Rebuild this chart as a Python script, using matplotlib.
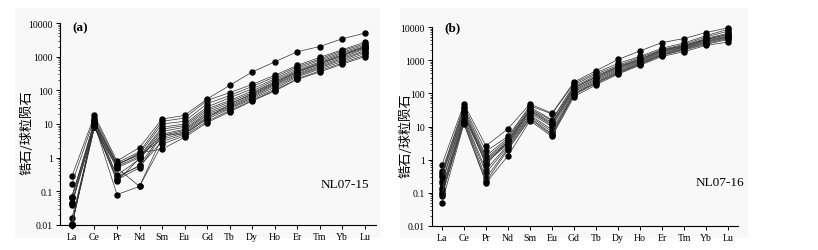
import matplotlib
matplotlib.use("Agg")
import matplotlib.pyplot as plt
from matplotlib.ticker import LogLocator, FixedLocator, FixedFormatter, NullFormatter
from matplotlib.patches import Rectangle
import numpy as np

elements = ["La", "Ce", "Pr", "Nd", "Sm", "Eu", "Gd", "Tb", "Dy", "Ho", "Er", "Tm", "Yb", "Lu"]

# NL07-15 samples (chondrite-normalised)
a_La = [0.28, 0.17, 0.07, 0.065, 0.045, 0.04, 0.016, 0.011, 0.010, 0.010, 0.011, 0.010, 0.045, 0.07]
a_Ce = [18, 15, 12, 10, 9, 8.5, 8, 9, 10, 11, 12, 8, 13, 9.5]
a_Pr = [0.80, 0.70, 0.60, 0.55, 0.50, 0.30, 0.25, 0.22, 0.08, 0.65, 0.28, 0.50, 0.60, 0.20]
a_Nd = [2.0, 1.5, 1.3, 1.1, 1.0, 0.9, 0.6, 0.5, 0.14, 1.2, 0.55, 0.14, 1.4, 0.95]
a_Sm = [14, 12, 10, 8, 7, 6, 5, 4.5, 4, 3.5, 3, 2.5, 1.8, 5]
a_Eu = [18, 15, 12, 10, 9, 8, 7, 6.5, 6, 5.5, 5, 4.5, 4, 5]
a_Gd = [55, 50, 40, 32, 28, 25, 22, 20, 18, 16, 14, 12, 11, 15]
a_Tb = [140, 85, 70, 60, 50, 45, 40, 35, 32, 30, 28, 25, 23, 38]
a_Dy = [350, 150, 130, 110, 95, 85, 75, 70, 65, 60, 55, 50, 48, 80]
a_Ho = [700, 280, 250, 220, 200, 180, 160, 150, 140, 125, 110, 100, 95, 170]
a_Er = [1400, 550, 500, 450, 400, 370, 340, 310, 290, 270, 250, 220, 210, 350]
a_Tm = [2000, 950, 850, 780, 700, 650, 600, 550, 500, 470, 430, 380, 350, 620]
a_Yb = [3400, 1600, 1500, 1350, 1250, 1150, 1050, 950, 880, 800, 720, 650, 600, 1100]
a_Lu = [5000, 2700, 2400, 2200, 2000, 1900, 1800, 1700, 1500, 1400, 1250, 1100, 1000, 2000]

# NL07-16 samples
b_La = [0.70, 0.45, 0.40, 0.35, 0.22, 0.20, 0.14, 0.12, 0.10, 0.09, 0.08, 0.05, 0.30]
b_Ce = [48, 40, 35, 30, 25, 22, 20, 18, 16, 15, 13, 12, 28]
b_Pr = [2.6, 1.8, 1.3, 1.1, 1.0, 0.9, 0.8, 0.5, 0.4, 0.28, 0.22, 0.20, 0.7]
b_Nd = [8.5, 5, 4.5, 4, 3.5, 3.2, 3, 2.8, 2.5, 2.2, 2, 1.3, 3.8]
b_Sm = [48, 42, 38, 34, 30, 28, 25, 22, 20, 18, 17, 15, 32]
b_Eu = [25, 24, 16, 15, 12, 11, 10, 8, 7, 6, 5.5, 5, 13]
b_Gd = [220, 200, 180, 160, 150, 130, 120, 110, 100, 95, 90, 80, 140]
b_Tb = [480, 420, 380, 340, 300, 280, 260, 240, 220, 210, 200, 180, 320]
b_Dy = [1050, 800, 700, 650, 600, 560, 520, 480, 450, 420, 400, 380, 620]
b_Ho = [1900, 1300, 1200, 1100, 1000, 950, 900, 850, 800, 780, 750, 700, 1050]
b_Er = [3400, 2300, 2100, 2000, 1900, 1800, 1700, 1600, 1500, 1450, 1400, 1300, 2000]
b_Tm = [4500, 3300, 3000, 2800, 2600, 2500, 2400, 2300, 2200, 2100, 2000, 1800, 2700]
b_Yb = [6800, 5500, 5000, 4500, 4200, 4000, 3800, 3600, 3400, 3200, 3000, 2800, 4300]
b_Lu = [9500, 8500, 7500, 6500, 6000, 5500, 5200, 5000, 4800, 4500, 4200, 3500, 6000]

a_data = np.array([a_La, a_Ce, a_Pr, a_Nd, a_Sm, a_Eu, a_Gd, a_Tb, a_Dy, a_Ho, a_Er, a_Tm, a_Yb, a_Lu]).T
b_data = np.array([b_La, b_Ce, b_Pr, b_Nd, b_Sm, b_Eu, b_Gd, b_Tb, b_Dy, b_Ho, b_Er, b_Tm, b_Yb, b_Lu]).T

ytick_vals = [0.01, 0.1, 1, 10, 100, 1000, 10000]
ytick_labels = ["0.01", "0.1", "1", "10", "100", "1000", "10000"]

serif = ["Liberation Serif", "DejaVu Serif"]
cjk = ["Noto Sans CJK SC", "DejaVu Sans"]

fig = plt.figure(figsize=(8.18, 2.51), dpi=100, facecolor="white")

# faint grey panel backgrounds
for (x0, x1) in [(15, 380), (400, 748)]:
    fig.patches.append(Rectangle((x0 / 818, 12 / 251), (x1 - x0) / 818, 230 / 251,
                                 transform=fig.transFigure, facecolor="#f8f8f8",
                                 edgecolor="none", zorder=-10))

def make_panel(rect, data, tag, tag_y, name, name_xy, xlim, ylab_x):
    ax = fig.add_axes(rect)
    ax.set_facecolor("none")
    x = np.arange(len(elements))
    for row in data:
        ax.plot(x, row, color="#333333", lw=0.5, marker="o", ms=3.6,
                mfc="black", mec="black", zorder=3, clip_on=False)
    ax.set_yscale("log")
    ax.set_ylim(0.01, 10000)
    ax.set_xlim(*xlim)
    ax.yaxis.set_major_locator(FixedLocator(ytick_vals))
    ax.yaxis.set_major_formatter(FixedFormatter(ytick_labels))
    ax.yaxis.set_minor_locator(LogLocator(base=10, subs=np.arange(2, 10), numticks=20))
    ax.yaxis.set_minor_formatter(NullFormatter())
    ax.set_xticks(x)
    ax.set_xticklabels(elements)
    for s in ["top", "right"]:
        ax.spines[s].set_visible(False)
    for s in ["left", "bottom"]:
        ax.spines[s].set_linewidth(0.8)
    ax.tick_params(axis="both", which="major", direction="out", length=3, width=0.7,
                   labelsize=7, pad=2)
    ax.tick_params(axis="y", which="minor", direction="out", length=1.8, width=0.5)
    for lab in ax.get_xticklabels() + ax.get_yticklabels():
        lab.set_fontfamily(serif)
    ax.set_ylabel("锆石/球粒陨石", family=cjk, fontsize=9.5)
    ax.yaxis.set_label_coords(ylab_x, 0.46)
    ax.text(0.04, tag_y, tag, transform=ax.transAxes, fontsize=9.5, fontweight="bold",
            family=serif, va="top", ha="left")
    ax.text(name_xy[0], name_xy[1], name, transform=ax.transAxes, fontsize=9.5,
            family=serif, va="center", ha="right")
    return ax

make_panel([60 / 818, 1 - 226 / 251, 316 / 818, 202 / 251], a_data, "(a)", 1.01, "NL07-15",
           (0.978, 0.203), (-0.53, 13.5), -0.085)
make_panel([432 / 818, 1 - 227 / 251, 306 / 818, 199 / 251], b_data, "(b)", 1.03, "NL07-16",
           (1.02, 0.22), (-0.45, 13.45), -0.065)

fig.savefig("out.png", dpi=100, facecolor="white")
